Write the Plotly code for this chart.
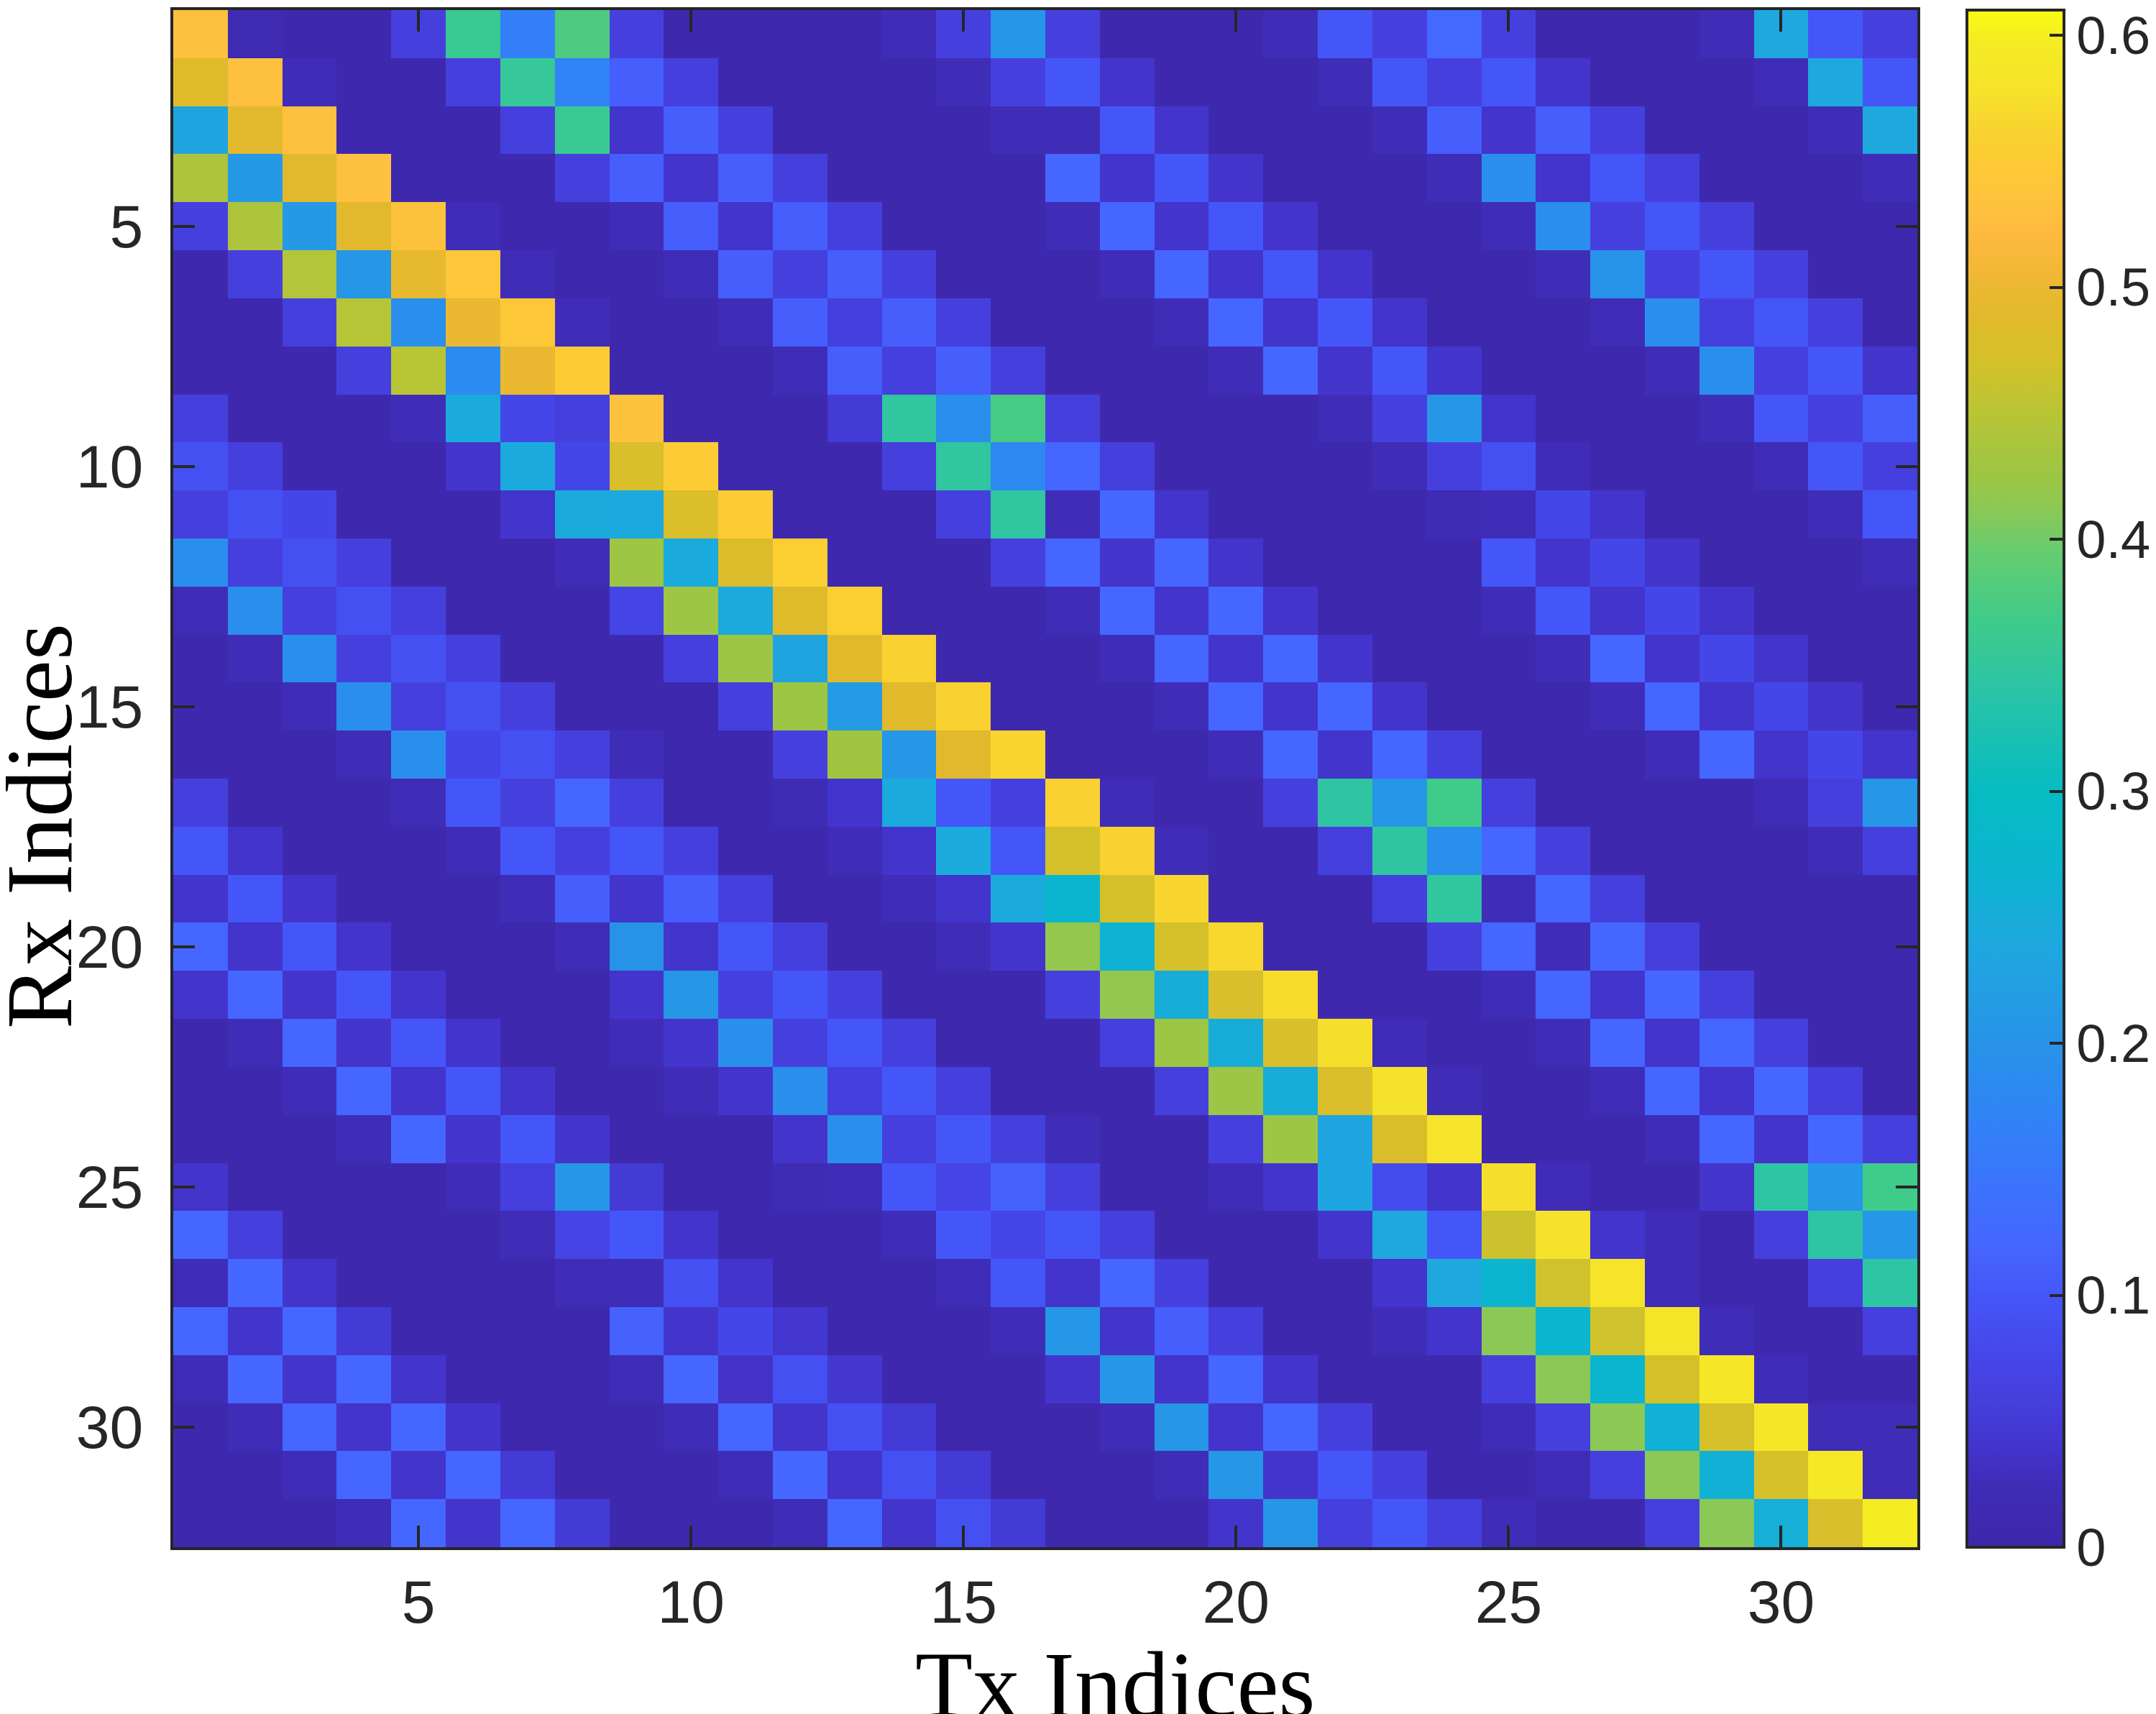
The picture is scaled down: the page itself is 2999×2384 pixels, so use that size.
import plotly.graph_objects as go

# Rx (rows) x Tx (columns) magnitude matrix
tx_idx = list(range(1, 33))
rx_idx = list(range(1, 33))

rx_rows = [
    [.53, .015, .01, .01, .06, .36, .165, .378, .06, .01, .01, .01, .01, .025, .06, .205, .06, .01, .01, .01, .025, .1, .06, .125, .06, .01, .01, .01, .025, .24, .1, .06],
    [.485, .53, .025, .01, .01, .06, .355, .17, .11, .06, .01, .01, .01, .01, .025, .06, .1, .04, .01, .01, .01, .025, .1, .06, .1, .04, .01, .01, .01, .025, .24, .1],
    [.232, .49, .53, .01, .01, .01, .06, .36, .04, .11, .06, .01, .01, .01, .01, .025, .025, .1, .04, .01, .01, .01, .025, .11, .04, .11, .06, .01, .01, .01, .025, .24],
    [.44, .21, .49, .53, .01, .01, .01, .06, .11, .04, .11, .06, .01, .01, .01, .01, .12, .04, .1, .04, .01, .01, .01, .025, .19, .04, .1, .06, .01, .01, .01, .025],
    [.06, .44, .21, .49, .535, .025, .01, .01, .025, .11, .04, .11, .06, .01, .01, .01, .025, .12, .04, .1, .04, .01, .01, .01, .025, .19, .06, .1, .06, .01, .01, .01],
    [.01, .06, .445, .205, .495, .54, .025, .01, .01, .025, .11, .06, .11, .06, .01, .01, .01, .025, .12, .04, .1, .04, .01, .01, .01, .025, .2, .06, .1, .06, .01, .01],
    [.01, .01, .06, .448, .19, .5, .545, .025, .01, .01, .025, .11, .06, .11, .06, .01, .01, .01, .025, .12, .04, .1, .04, .01, .01, .01, .025, .19, .06, .1, .06, .01],
    [.01, .01, .01, .06, .45, .185, .5, .55, .01, .01, .01, .025, .11, .06, .11, .06, .01, .01, .01, .025, .12, .04, .1, .04, .01, .01, .01, .025, .19, .06, .1, .04],
    [.06, .01, .01, .01, .025, .245, .075, .06, .535, .01, .01, .01, .05, .348, .19, .373, .06, .01, .01, .01, .01, .025, .06, .205, .04, .01, .01, .01, .025, .1, .06, .11],
    [.09, .06, .01, .01, .01, .04, .245, .075, .475, .55, .01, .01, .01, .06, .347, .18, .12, .06, .01, .01, .01, .01, .025, .06, .09, .025, .01, .01, .01, .025, .1, .06],
    [.06, .09, .075, .01, .01, .01, .04, .245, .243, .478, .55, .01, .01, .01, .06, .347, .025, .12, .04, .01, .01, .01, .01, .02, .025, .075, .04, .01, .01, .01, .025, .1],
    [.19, .06, .09, .06, .01, .01, .01, .025, .425, .245, .482, .555, .01, .01, .01, .06, .12, .04, .12, .04, .01, .01, .01, .01, .1, .04, .075, .04, .01, .01, .01, .025],
    [.025, .19, .06, .09, .06, .01, .01, .01, .07, .425, .245, .485, .555, .01, .01, .01, .025, .12, .04, .12, .04, .01, .01, .01, .025, .1, .04, .075, .04, .01, .01, .01],
    [.01, .025, .19, .06, .09, .06, .01, .01, .01, .06, .425, .232, .488, .56, .01, .01, .01, .025, .12, .04, .12, .04, .01, .01, .01, .025, .12, .04, .075, .04, .01, .01],
    [.01, .01, .025, .19, .06, .09, .06, .01, .01, .01, .06, .425, .215, .488, .56, .01, .01, .01, .025, .12, .04, .12, .04, .01, .01, .01, .025, .12, .04, .075, .04, .01],
    [.01, .01, .01, .025, .19, .075, .09, .06, .025, .01, .01, .06, .43, .205, .49, .565, .01, .01, .01, .025, .12, .04, .12, .06, .01, .01, .01, .025, .12, .04, .075, .04],
    [.06, .01, .01, .01, .025, .1, .06, .12, .06, .01, .01, .02, .04, .245, .1, .06, .56, .025, .01, .01, .06, .345, .205, .368, .06, .01, .01, .01, .01, .025, .06, .205],
    [.1, .04, .01, .01, .01, .025, .1, .06, .1, .06, .01, .01, .025, .04, .245, .1, .47, .56, .025, .01, .01, .06, .346, .19, .12, .06, .01, .01, .01, .01, .025, .06],
    [.04, .1, .04, .01, .01, .01, .025, .11, .04, .11, .06, .01, .01, .025, .04, .245, .27, .47, .565, .01, .01, .01, .06, .347, .025, .12, .06, .01, .01, .01, .01, .01],
    [.12, .04, .1, .04, .01, .01, .01, .025, .2, .04, .1, .06, .01, .01, .025, .04, .418, .262, .472, .567, .01, .01, .01, .06, .12, .025, .12, .06, .01, .01, .01, .01],
    [.04, .12, .04, .1, .04, .01, .01, .01, .04, .205, .06, .1, .06, .01, .01, .01, .06, .418, .25, .475, .572, .01, .01, .01, .025, .12, .04, .12, .06, .01, .01, .01],
    [.01, .025, .12, .04, .1, .04, .01, .01, .025, .04, .19, .06, .1, .06, .01, .01, .01, .06, .425, .25, .475, .575, .025, .01, .01, .025, .12, .04, .12, .06, .01, .01],
    [.01, .01, .025, .12, .04, .1, .04, .01, .01, .025, .04, .19, .06, .1, .06, .01, .01, .01, .06, .425, .25, .478, .578, .025, .01, .01, .025, .12, .04, .12, .06, .01],
    [.01, .01, .01, .025, .12, .04, .1, .04, .01, .01, .01, .04, .19, .06, .1, .06, .025, .01, .01, .06, .425, .235, .48, .58, .01, .01, .01, .025, .12, .04, .12, .06],
    [.04, .01, .01, .01, .01, .025, .06, .205, .05, .01, .01, .02, .025, .1, .07, .115, .06, .01, .01, .025, .04, .235, .085, .04, .575, .025, .01, .01, .04, .343, .205, .368],
    [.12, .06, .01, .01, .01, .01, .025, .07, .1, .04, .01, .01, .01, .025, .1, .075, .1, .06, .01, .01, .01, .04, .24, .1, .465, .578, .04, .025, .01, .06, .343, .205],
    [.025, .12, .04, .01, .01, .01, .01, .025, .025, .09, .04, .01, .01, .01, .025, .1, .04, .12, .06, .01, .01, .01, .04, .24, .27, .467, .58, .025, .01, .01, .06, .343],
    [.12, .04, .12, .05, .01, .01, .01, .01, .115, .04, .075, .045, .01, .01, .01, .025, .205, .04, .11, .06, .01, .01, .025, .04, .412, .27, .467, .582, .025, .01, .01, .06],
    [.025, .12, .04, .12, .04, .01, .01, .01, .025, .12, .035, .09, .045, .01, .01, .01, .04, .205, .04, .12, .04, .01, .01, .01, .06, .412, .27, .47, .585, .025, .01, .01],
    [.01, .025, .12, .04, .12, .04, .01, .01, .01, .025, .12, .04, .09, .05, .01, .01, .01, .025, .205, .04, .12, .06, .01, .01, .025, .06, .412, .26, .472, .587, .025, .025],
    [.01, .01, .025, .12, .04, .12, .05, .01, .01, .01, .025, .12, .04, .09, .05, .01, .01, .01, .025, .205, .04, .1, .06, .01, .01, .025, .06, .412, .26, .472, .59, .025],
    [.01, .01, .01, .025, .12, .04, .12, .05, .01, .01, .01, .025, .12, .04, .09, .05, .01, .01, .01, .04, .205, .06, .1, .06, .025, .01, .01, .06, .412, .255, .475, .598],
]

axis_ticks = [5, 10, 15, 20, 25, 30]
cbar_ticks = [0, 0.1, 0.2, 0.3, 0.4, 0.5, 0.6]
cbar_labels = ['0', '0.1', '0.2', '0.3', '0.4', '0.5', '0.6']

z_min, z_max = 0.0, 0.61

# parula-like colour stops (value, colour)
parula_stops = [
    (0.000, '#3E26A8'), (0.025, '#3F2DB8'), (0.040, '#4334CC'), (0.060, '#4540DD'),
    (0.075, '#4546E8'), (0.100, '#4556F8'), (0.120, '#4566FF'), (0.165, '#3380F8'),
    (0.190, '#2A8EEC'), (0.205, '#2696E6'), (0.240, '#1EA8DE'), (0.270, '#0BB5D0'),
    (0.300, '#06BCC2'), (0.345, '#2FC5A2'), (0.368, '#3FCB8A'), (0.378, '#4ECB80'),
    (0.395, '#65CD70'), (0.412, '#8CC855'), (0.425, '#9CC644'), (0.440, '#ADC43C'),
    (0.450, '#B8C535'), (0.470, '#D4C12A'), (0.490, '#E2B92C'), (0.505, '#F0B834'),
    (0.520, '#FDB93E'), (0.530, '#FEC03F'), (0.550, '#FDCB34'), (0.560, '#F9D130'),
    (0.580, '#F5E42A'), (0.598, '#F5EC22'), (0.610, '#F9FB14'),
]
colorscale = [[v / z_max, c] for v, c in parula_stops]

W, H = 2999, 2384
L, R, T, B = 233, 340, 6, 240
plot_w, plot_h = W - L - R, H - T - B

axis_color = '#262626'
tick_font = dict(family='Liberation Sans, Arial, sans-serif', size=84, color=axis_color)
title_font = dict(family='Liberation Serif, Times New Roman, serif', size=131, color='black')

fig = go.Figure()

fig.add_trace(
    go.Heatmap(
        x=tx_idx, y=rx_idx, z=rx_rows,
        zmin=z_min, zmax=z_max,
        colorscale=colorscale,
        colorbar=dict(
            x=(2728 - L) / plot_w, xanchor='left', xref='paper',
            y=0.5, yanchor='middle', len=1, lenmode='fraction',
            thickness=135, thicknessmode='pixels',
            xpad=0, ypad=0,
            outlinewidth=4, outlinecolor=axis_color,
            ticks='inside', ticklen=22, tickwidth=4, tickcolor=axis_color,
            tickvals=cbar_ticks, ticktext=cbar_labels,
            ticklabeloverflow='allow',
            tickfont=dict(family='Liberation Sans, Arial, sans-serif', size=74, color=axis_color),
        ),
        hoverinfo='skip',
    )
)

fig.update_layout(
    width=W, height=H,
    margin=dict(l=L, r=R, t=T, b=B, autoexpand=False),
    paper_bgcolor='white', plot_bgcolor='white',
    xaxis=dict(
        range=[0.5, 32.5], tickvals=axis_ticks, ticks='inside', ticklen=30, tickwidth=4,
        tickcolor=axis_color, showline=True, linewidth=4, linecolor=axis_color,
        mirror='allticks', showgrid=False, zeroline=False, tickfont=tick_font,
        ticklabelstandoff=0,
    ),
    yaxis=dict(
        range=[32.5, 0.5], tickvals=axis_ticks, ticks='inside', ticklen=30, tickwidth=4,
        tickcolor=axis_color, showline=True, linewidth=4, linecolor=axis_color,
        mirror='allticks', showgrid=False, zeroline=False, tickfont=tick_font,
        ticklabelstandoff=21,
    ),
)

# axis titles placed as in the reference
fig.add_annotation(
    text='Tx Indices', xref='paper', yref='paper',
    x=(1543 - L) / plot_w, y=(T + plot_h - 2335) / plot_h,
    xanchor='center', yanchor='middle', showarrow=False, font=title_font,
)
fig.add_annotation(
    text='Rx Indices', xref='paper', yref='paper', textangle=-90,
    x=(46 - L) / plot_w, y=(T + plot_h - 1141) / plot_h,
    xanchor='center', yanchor='middle', showarrow=False, font=title_font,
)

fig.write_html('out.html')
